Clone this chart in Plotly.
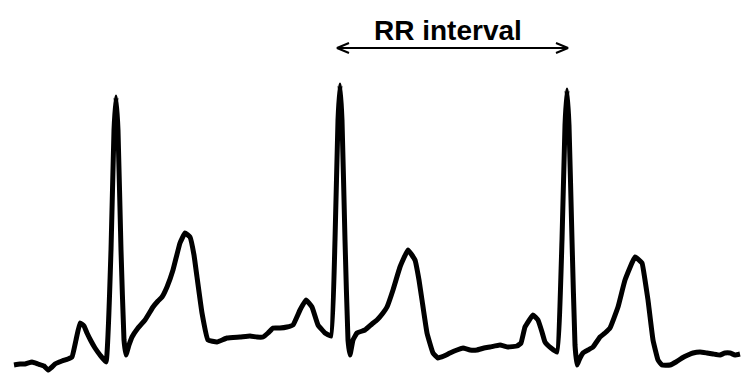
import plotly.graph_objects as go

# ECG trace (x = time position, y = amplitude in image units, downwards)
ecg_x = [14, 20, 25, 32, 38, 44, 48, 52, 55, 62, 68, 72, 76, 80, 84, 87, 91, 95, 100, 106,
         111, 114, 116, 118, 121, 124, 126,
         129, 132, 138, 145, 153, 158, 162, 167, 173, 180, 185, 190, 194, 197, 202, 208, 217, 227, 240, 250,
         257, 263, 268, 273, 280, 287, 293, 300, 306, 312, 318, 325, 331,
         335, 338, 340, 342, 345, 348, 350,
         353, 357, 365, 372, 377, 383, 387, 393, 400, 408, 415, 419, 422, 427, 433, 438, 444, 450, 457, 463,
         470, 477, 484, 490, 500, 508, 517, 521, 525, 533, 538, 542, 545, 551, 557,
         562, 565, 567, 569, 572, 575, 577,
         580, 583, 588, 593, 600, 605, 610, 618, 625, 635, 642, 645, 648, 653, 658, 662, 670, 676, 682, 688,
         693, 700, 707, 713, 720, 725, 730, 735, 740]
ecg_y = [365, 364, 364, 362, 364, 366, 370, 367, 364, 361, 359, 357, 340, 323, 326, 333, 341, 348, 355, 362,
         250, 130, 97, 130, 250, 340, 355,
         345, 337, 328, 320, 307, 301, 297, 287, 270, 243, 233, 237, 255, 277, 313, 340, 342, 338, 337, 336,
         337, 337, 333, 328, 328, 327, 325, 310, 300, 307, 325, 333, 336,
         240, 120, 85, 120, 240, 340, 355,
         340, 333, 330, 324, 320, 313, 307, 290, 267, 250, 260, 280, 300, 333, 353, 358, 356, 353, 350, 348,
         350, 350, 348, 347, 345, 347, 346, 343, 327, 315, 320, 332, 342, 348, 352,
         240, 125, 90, 125, 240, 345, 365,
         358, 353, 350, 347, 337, 333, 328, 307, 280, 257, 263, 280, 300, 340, 360, 365, 365, 362, 358, 355,
         353, 352, 353, 354, 355, 353, 353, 355, 354]

# RR interval annotation (between the 2nd and 3rd R peaks)
rr_label = "RR interval"
rr_start = 337
rr_end = 568
rr_level = 48
head_len = 12
head_half = 5

fig = go.Figure()
fig.add_trace(go.Scatter(x=ecg_x, y=ecg_y, mode="lines",
                         line=dict(color="black", width=5, shape="spline", smoothing=0.3),
                         hoverinfo="skip", showlegend=False))

# arrow shaft + open chevron heads
ax = [rr_start, rr_end, None,
      rr_start + head_len, rr_start, rr_start + head_len, None,
      rr_end - head_len, rr_end, rr_end - head_len]
ay = [rr_level, rr_level, None,
      rr_level - head_half, rr_level, rr_level + head_half, None,
      rr_level - head_half, rr_level, rr_level + head_half]
fig.add_trace(go.Scatter(x=ax, y=ay, mode="lines", line=dict(color="black", width=2),
                         hoverinfo="skip", showlegend=False))

fig.add_annotation(x=(rr_start + rr_end) / 2 - 5, y=30, text="<b>" + rr_label + "</b>",
                   showarrow=False, font=dict(family="Liberation Sans, Arial", size=28, color="black"),
                   xanchor="center", yanchor="middle")

fig.update_layout(width=750, height=384, margin=dict(l=0, r=0, t=0, b=0),
                  paper_bgcolor="white", plot_bgcolor="white")
fig.update_xaxes(range=[0, 750], visible=False)
fig.update_yaxes(range=[384, 0], visible=False)
fig.write_html("out.html")
